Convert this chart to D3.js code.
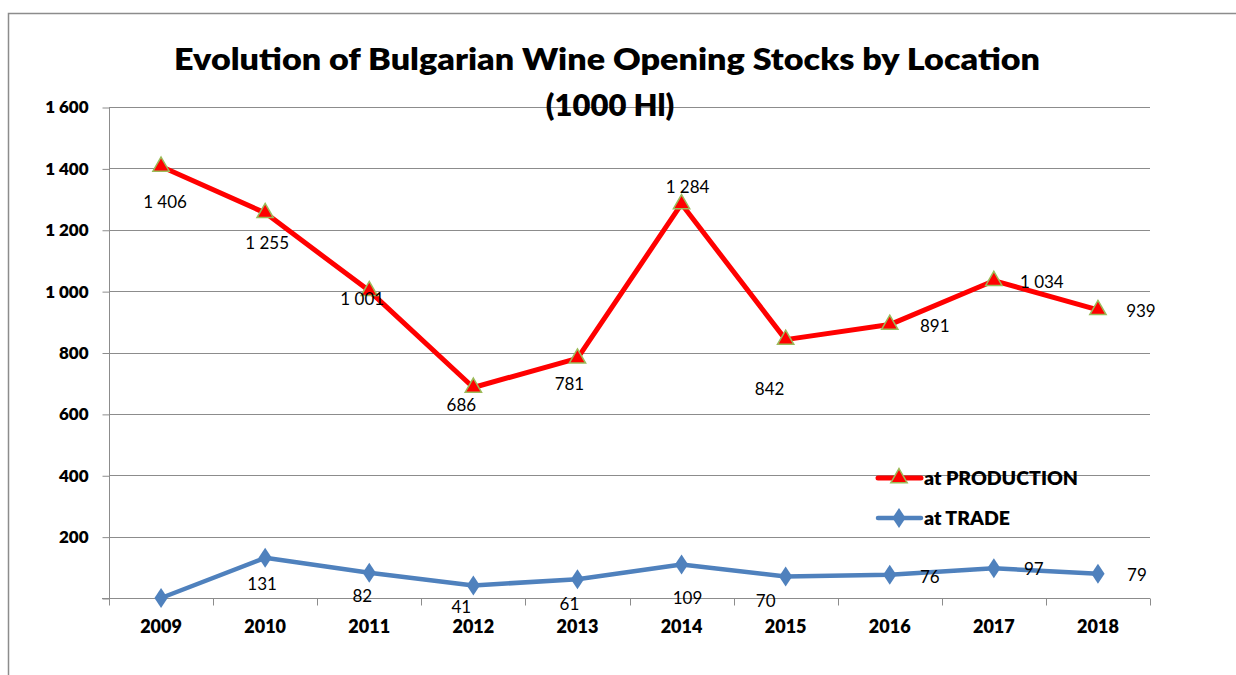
<!DOCTYPE html>
<html>
<head>
<meta charset="utf-8">
<script src="https://cdn.jsdelivr.net/npm/d3@7"></script>
<style>
    body { margin: 0; background: #fff; }
    svg { display: block; font-family: Lato, 'Noto Sans', sans-serif; }
</style>
</head>
<body>
<div id="chart"></div>
<script>
    'use strict';

    var years = ['2009', '2010', '2011', '2012', '2013', '2014', '2015', '2016', '2017', '2018'];
    var production = [1406, 1255, 1001, 686, 781, 1284, 842, 891, 1034, 939];
    var trade = [0, 131, 82, 41, 61, 109, 70, 76, 97, 79];
    var yTicks = [0, 200, 400, 600, 800, 1000, 1200, 1400, 1600];

    // label nudges (px) copied from where the original spreadsheet left them
    var productionNudge = [[4, 36], [2, 30], [-7, 8], [-12, 18], [-8, 26], [6, -17], [-16, 49], [45, 1], [48, 1], [43, 1]];
    var tradeNudge = [[0, 0], [-3, 26], [-7, 23], [-12, 22], [-8, 25], [6, 33], [-20, 25], [40, 2], [40, 1], [39, 1]];

    var width = 1236, height = 675;
    var margin = {left: 109, right: 1150, top: 107, bottom: 598};

    var fmt = d3.formatLocale({decimal: ',', thousands: ' ', grouping: [3], currency: ['', '']}).format(',d');

    var svg = d3.select('#chart').append('svg')
        .attr('width', width)
        .attr('height', height);

    // outer frame (only top and left edges show in the crop)
    svg.append('path')
        .attr('d', 'M8.5,675 V13.5 H1236')
        .attr('fill', 'none')
        .attr('stroke', '#8c8c8c')
        .attr('stroke-width', 1.5);

    var x = d3.scaleBand().domain(years).range([margin.left, margin.right]);
    var y = d3.scaleLinear().domain([0, 1600]).range([margin.bottom, margin.top]);
    var cx = function (d, i) { return x(years[i]) + x.bandwidth() / 2; };

    // gridlines
    svg.append('g').selectAll('line')
        .data(yTicks.slice(1))
        .enter().append('line')
        .attr('x1', margin.left).attr('x2', margin.right)
        .attr('y1', function (d) { return Math.round(y(d)) + 0.5; })
        .attr('y2', function (d) { return Math.round(y(d)) + 0.5; })
        .attr('stroke', '#8c8c8c')
        .attr('stroke-width', 1.2);

    // y axis
    var yAxis = svg.append('g')
        .attr('transform', 'translate(' + (margin.left + 0.5) + ',0.5)')
        .call(d3.axisLeft(y).tickValues(yTicks).tickSize(7).tickPadding(14)
            .tickFormat(function (d) { return d === 0 ? '' : fmt(d); }));
    yAxis.select('.domain').attr('stroke', '#8c8c8c').attr('d', 'M0,' + margin.top + 'V' + (margin.bottom + 6));
    yAxis.selectAll('.tick line').attr('stroke', '#8c8c8c');
    yAxis.selectAll('text')
        .attr('fill', '#000')
        .style('font-size', '17px')
        .style('font-weight', 800)
        .style('font-family', 'Lato, sans-serif');

    // x axis, ticks on the band edges
    var xAxis = svg.append('g')
        .attr('transform', 'translate(0,' + (margin.bottom + 0.5) + ')');
    xAxis.append('line')
        .attr('x1', margin.left - 7).attr('x2', margin.right)
        .attr('stroke', '#8c8c8c').attr('stroke-width', 1.2);
    xAxis.selectAll('line.edge')
        .data(d3.range(years.length + 1))
        .enter().append('line')
        .attr('class', 'edge')
        .attr('x1', function (i) { return Math.round(margin.left + i * x.bandwidth()) + 0.5; })
        .attr('x2', function (i) { return Math.round(margin.left + i * x.bandwidth()) + 0.5; })
        .attr('y1', 0).attr('y2', 7)
        .attr('stroke', '#8c8c8c');
    xAxis.selectAll('text')
        .data(years)
        .enter().append('text')
        .attr('x', function (d) { return x(d) + x.bandwidth() / 2; })
        .attr('y', 34)
        .attr('text-anchor', 'middle')
        .style('font-size', '18px')
        .style('font-weight', 800)
        .text(function (d) { return d; });

    // title
    var title = svg.append('text')
        .attr('text-anchor', 'middle')
        .style('font-size', '31px')
        .style('font-weight', 800);
    title.append('tspan').attr('x', 607).attr('y', 70)
        .attr('textLength', 866).attr('lengthAdjust', 'spacingAndGlyphs')
        .text('Evolution of Bulgarian Wine Opening Stocks by Location');
    title.append('tspan').attr('x', 610).attr('y', 116)
        .text('(1000 Hl)');

    var line = d3.line()
        .x(cx)
        .y(function (d) { return y(d); });

    var triangle = d3.symbol().type(d3.symbolTriangle).size(115);
    var diamond = d3.symbol().type(d3.symbolDiamond).size(115);

    // production series
    svg.append('path')
        .datum(production)
        .attr('d', line)
        .attr('fill', 'none')
        .attr('stroke', '#ff0000')
        .attr('stroke-width', 5)
        .attr('stroke-linejoin', 'round');

    svg.append('g').selectAll('path')
        .data(production)
        .enter().append('path')
        .attr('d', triangle)
        .attr('transform', function (d, i) { return 'translate(' + cx(d, i) + ',' + y(d) + ')'; })
        .attr('fill', '#ff0000')
        .attr('stroke', '#9bbb59')
        .attr('stroke-width', 1.5);

    // trade series
    svg.append('path')
        .datum(trade)
        .attr('d', line)
        .attr('fill', 'none')
        .attr('stroke', '#4f81bd')
        .attr('stroke-width', 4.5)
        .attr('stroke-linejoin', 'round');

    svg.append('g').selectAll('path')
        .data(trade)
        .enter().append('path')
        .attr('d', diamond)
        .attr('transform', function (d, i) { return 'translate(' + cx(d, i) + ',' + y(d) + ') scale(1.15,1)'; })
        .attr('fill', '#4f81bd');

    // data labels
    function labels (values, nudge) {
        svg.append('g').selectAll('text')
            .data(values.map(function (v, i) { return {v: v, i: i}; }))
            .enter().append('text')
            .filter(function (d) { return d.v !== 0; })
            .attr('x', function (d) { return cx(d.v, d.i) + nudge[d.i][0]; })
            .attr('y', function (d) { return y(d.v) + nudge[d.i][1]; })
            .attr('dy', '0.35em')
            .attr('text-anchor', 'middle')
            .style('font-size', '17px')
            .text(function (d) { return fmt(d.v); });
    }
    labels(production, productionNudge);
    labels(trade, tradeNudge);

    // legend
    var legend = svg.append('g');
    var entries = [
        {name: 'at PRODUCTION', color: '#ff0000', y: 478, mark: 'tri'},
        {name: 'at TRADE', color: '#4f81bd', y: 518, mark: 'dia'}
    ];
    entries.forEach(function (e) {
        legend.append('line')
            .attr('x1', 878).attr('x2', 921)
            .attr('y1', e.y).attr('y2', e.y)
            .attr('stroke', e.color)
            .attr('stroke-width', e.mark === 'tri' ? 5 : 4.5)
            .attr('stroke-linecap', 'round');
        if (e.mark === 'tri') {
            legend.append('path').attr('d', triangle)
                .attr('transform', 'translate(899,' + e.y + ')')
                .attr('fill', e.color).attr('stroke', '#9bbb59').attr('stroke-width', 1.5);
        } else {
            legend.append('path').attr('d', diamond)
                .attr('transform', 'translate(899,' + e.y + ') scale(1.15,1)')
                .attr('fill', e.color);
        }
        legend.append('text')
            .attr('x', 924).attr('y', e.y)
            .attr('dy', '0.36em')
            .style('font-size', '19.5px')
            .style('font-weight', 800)
            .text(e.name);
    });
</script>
</body>
</html>
